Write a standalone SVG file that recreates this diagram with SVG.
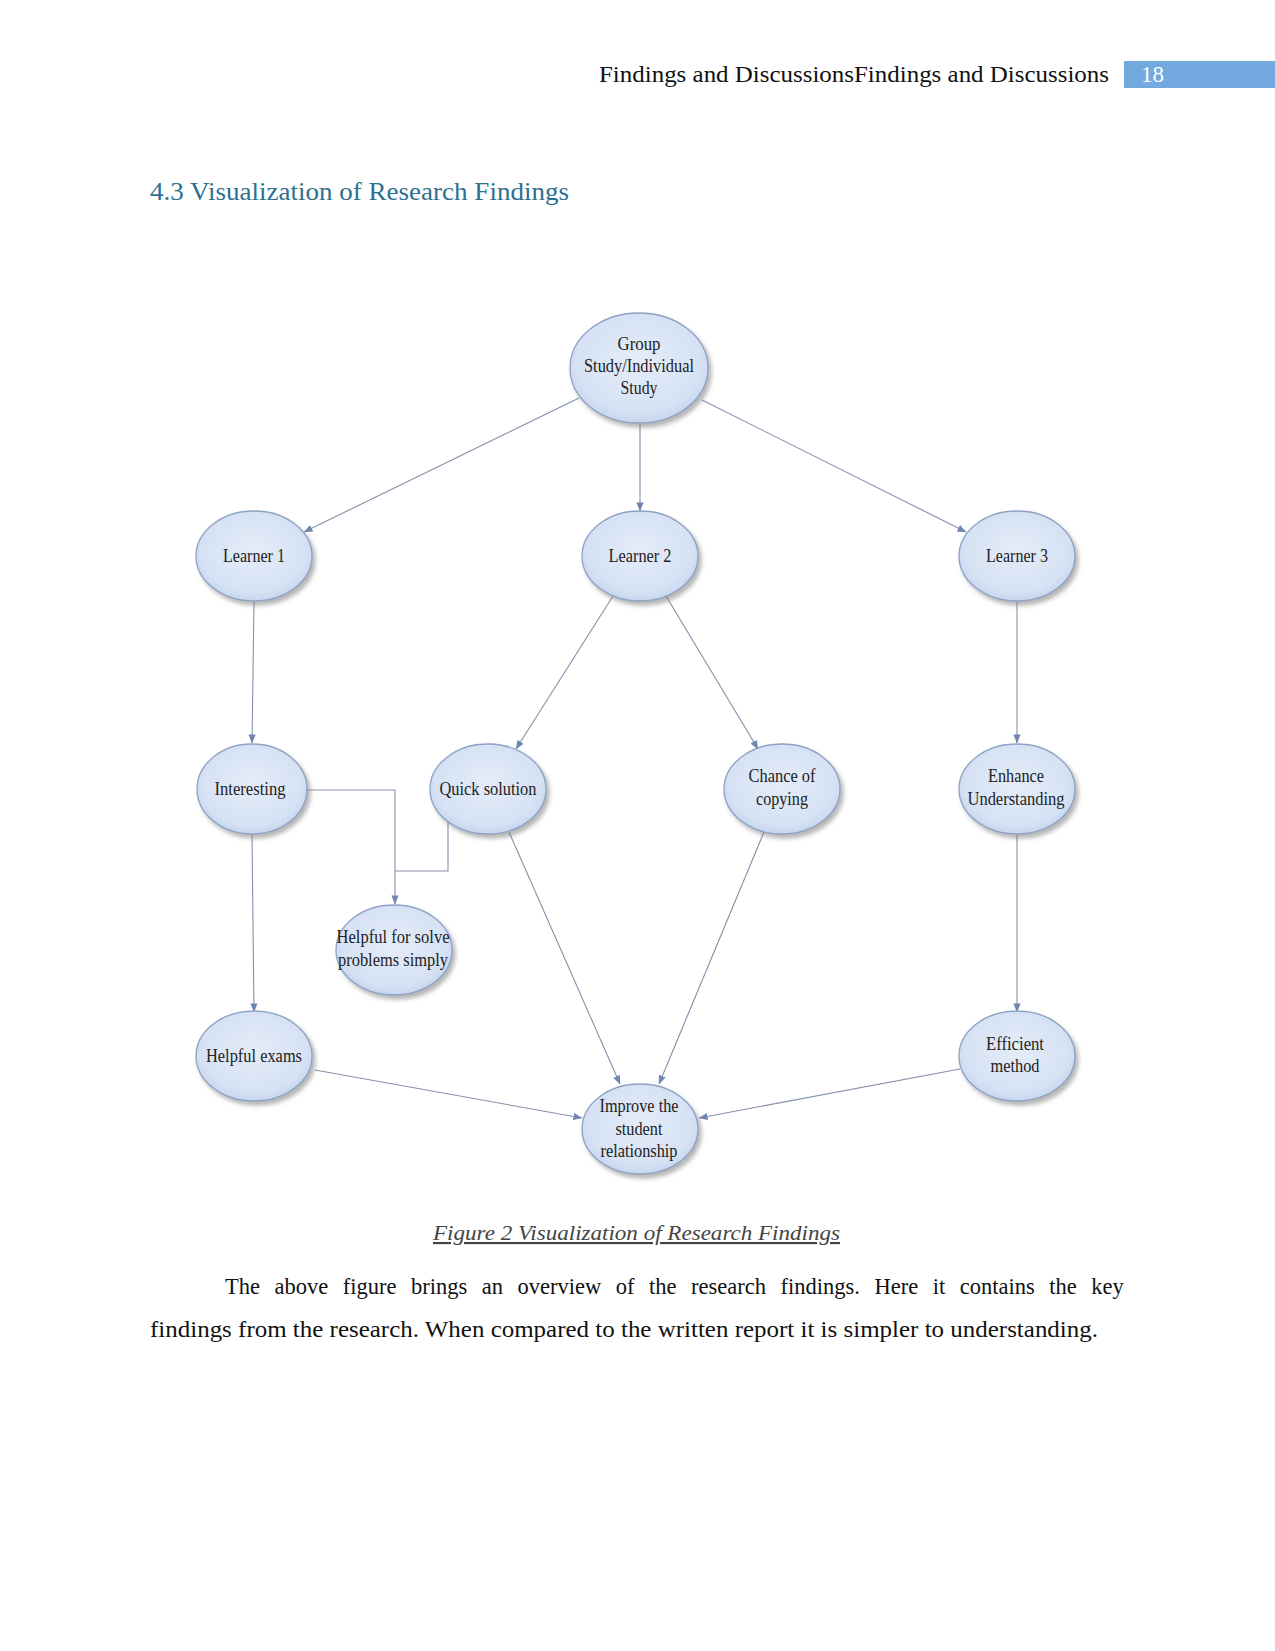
<svg xmlns="http://www.w3.org/2000/svg" width="1275" height="1651" viewBox="0 0 1275 1651">
<defs>
<radialGradient id="ng" cx="50%" cy="45%" r="60%">
<stop offset="0" stop-color="#E4ECF8"/>
<stop offset="0.75" stop-color="#D6E2F4"/>
<stop offset="1" stop-color="#BFD0EC"/>
</radialGradient>
<filter id="sh" x="-20%" y="-20%" width="150%" height="150%">
<feDropShadow dx="3" dy="4" stdDeviation="2" flood-color="#7a7a7a" flood-opacity="0.55"/>
</filter>
<marker id="ar" viewBox="0 0 10 10" refX="9.5" refY="5" markerWidth="9" markerHeight="9" markerUnits="userSpaceOnUse" orient="auto">
<path d="M0,1 L10,5 L0,9 z" fill="#6F86B3"/>
</marker>
</defs>
<style>
.n{fill:url(#ng);stroke:#8DA2C4;stroke-width:1.3;filter:url(#sh)}
.t{font-family:"Liberation Serif","Times New Roman",serif;font-size:19px;fill:#222;text-anchor:middle}
.s{font-family:"Liberation Serif","Times New Roman",serif}
.c{fill:none;stroke:#8391AA;stroke-width:1.1}
.a{marker-end:url(#ar)}
</style>
<rect width="1275" height="1651" fill="#fff"/>
<g id="header">
<text class="s" x="599" y="82" font-size="24" fill="#111" textLength="510" lengthAdjust="spacingAndGlyphs">Findings and DiscussionsFindings and Discussions</text>
<rect x="1124" y="61" width="151" height="27" fill="#72AADF"/>
<text class="s" x="1141" y="82" font-size="23" fill="#fff">18</text>
</g>
<text id="heading" class="s" x="150" y="200" font-size="25" fill="#2D6F8F" textLength="419" lengthAdjust="spacingAndGlyphs">4.3 Visualization of Research Findings</text>
<g id="connectors">
<line class="c a" x1="579" y1="398" x2="304" y2="532"/>
<line class="c a" x1="640" y1="424" x2="640" y2="511"/>
<line class="c a" x1="702" y1="400" x2="966" y2="532"/>
<line class="c a" x1="254" y1="602" x2="252" y2="743"/>
<line class="c a" x1="613" y1="596" x2="516" y2="749"/>
<line class="c a" x1="666" y1="596" x2="758" y2="749"/>
<line class="c a" x1="1017" y1="602" x2="1017" y2="743"/>
<line class="c a" x1="252" y1="835" x2="254" y2="1012"/>
<line class="c a" x1="1017" y1="835" x2="1017" y2="1012"/>
<polyline class="c a" points="306,790 395,790 395,904"/>
<polyline class="c" points="448,821 448,871 395,871"/>
<line class="c a" x1="509" y1="832" x2="620" y2="1084"/>
<line class="c a" x1="764" y1="832" x2="659" y2="1084"/>
<line class="c a" x1="315" y1="1070" x2="582" y2="1118"/>
<line class="c a" x1="960" y1="1069" x2="699" y2="1118"/>
</g>
<g id="n-group"><ellipse class="n" cx="639" cy="368" rx="69" ry="55"/>
<text class="t" x="639" y="350" textLength="43" lengthAdjust="spacingAndGlyphs">Group</text>
<text class="t" x="639" y="372" textLength="110" lengthAdjust="spacingAndGlyphs">Study/Individual</text>
<text class="t" x="639" y="394" textLength="37" lengthAdjust="spacingAndGlyphs">Study</text></g>
<g id="n-learner1"><ellipse class="n" cx="254" cy="556" rx="58" ry="45"/>
<text class="t" x="254" y="562" textLength="62" lengthAdjust="spacingAndGlyphs">Learner 1</text></g>
<g id="n-learner2"><ellipse class="n" cx="640" cy="556" rx="58" ry="45"/>
<text class="t" x="640" y="562" textLength="63" lengthAdjust="spacingAndGlyphs">Learner 2</text></g>
<g id="n-learner3"><ellipse class="n" cx="1017" cy="556" rx="58" ry="45"/>
<text class="t" x="1017" y="562" textLength="62" lengthAdjust="spacingAndGlyphs">Learner 3</text></g>
<g id="n-interesting"><ellipse class="n" cx="252" cy="789" rx="55" ry="45"/>
<text class="t" x="250" y="795" textLength="71" lengthAdjust="spacingAndGlyphs">Interesting</text></g>
<g id="n-quick"><ellipse class="n" cx="488" cy="789" rx="58" ry="45"/>
<text class="t" x="488" y="795" textLength="97" lengthAdjust="spacingAndGlyphs">Quick solution</text></g>
<g id="n-chance"><ellipse class="n" cx="782" cy="789" rx="58" ry="45"/>
<text class="t" x="782" y="782" textLength="67" lengthAdjust="spacingAndGlyphs">Chance of</text>
<text class="t" x="782" y="805" textLength="52" lengthAdjust="spacingAndGlyphs">copying</text></g>
<g id="n-enhance"><ellipse class="n" cx="1017" cy="789" rx="58" ry="45"/>
<text class="t" x="1016" y="782" textLength="56" lengthAdjust="spacingAndGlyphs">Enhance</text>
<text class="t" x="1016" y="805" textLength="97" lengthAdjust="spacingAndGlyphs">Understanding</text></g>
<g id="n-helpsolve"><ellipse class="n" cx="394" cy="950" rx="58" ry="45"/>
<text class="t" x="393" y="943" textLength="113" lengthAdjust="spacingAndGlyphs">Helpful for solve</text>
<text class="t" x="393" y="966" textLength="110" lengthAdjust="spacingAndGlyphs">problems simply</text></g>
<g id="n-exams"><ellipse class="n" cx="254" cy="1056" rx="58" ry="45"/>
<text class="t" x="254" y="1062" textLength="96" lengthAdjust="spacingAndGlyphs">Helpful exams</text></g>
<g id="n-efficient"><ellipse class="n" cx="1017" cy="1056" rx="58" ry="45"/>
<text class="t" x="1015" y="1050" textLength="58" lengthAdjust="spacingAndGlyphs">Efficient</text>
<text class="t" x="1015" y="1072" textLength="49" lengthAdjust="spacingAndGlyphs">method</text></g>
<g id="n-improve"><ellipse class="n" cx="640" cy="1129" rx="58" ry="45"/>
<text class="t" x="639" y="1112" textLength="79" lengthAdjust="spacingAndGlyphs">Improve the</text>
<text class="t" x="639" y="1135" textLength="47" lengthAdjust="spacingAndGlyphs">student</text>
<text class="t" x="639" y="1157" textLength="77" lengthAdjust="spacingAndGlyphs">relationship</text></g>
<g id="caption">
<text class="s" x="433" y="1240" font-size="21.5" font-style="italic" fill="#444" text-decoration="underline" textLength="407" lengthAdjust="spacingAndGlyphs">Figure 2 Visualization of Research Findings</text>
</g>
<g id="body" class="s" font-size="22.5" fill="#111">
<text class="s" x="225" y="1294" word-spacing="8.9">The above figure brings an overview of the research findings. Here it contains the key</text>
<text class="s" x="150" y="1337" textLength="948" lengthAdjust="spacingAndGlyphs">findings from the research. When compared to the written report it is simpler to understanding.</text>
</g>
</svg>
